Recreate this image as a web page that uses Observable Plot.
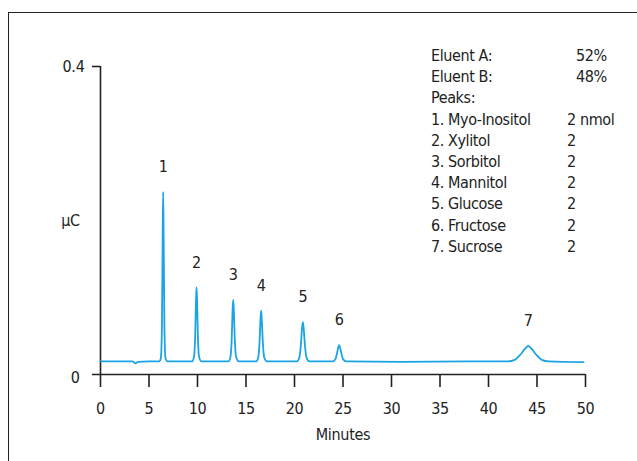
<!DOCTYPE html>
<html>
<head>
<meta charset="utf-8">
<script src="https://cdn.jsdelivr.net/npm/d3@7"></script>
<script src="https://cdn.jsdelivr.net/npm/@observablehq/plot@0.6"></script>
<style>
  html, body { margin: 0; padding: 0; background: #fff; }
  #wrap { position: relative; width: 637px; height: 461px; overflow: hidden;
          font-family: "DejaVu Sans Condensed", "Liberation Sans Narrow", Roboto, sans-serif; font-stretch: condensed; color: #222; }
  #frame { position: absolute; left: 8px; top: 12px; width: 700px; height: 600px;
           border-left: 1px solid #222; border-top: 1px solid #222; }
  #legend { position: absolute; left: 431px; top: 45px; font-size: 16px; line-height: 21.2px; letter-spacing: -0.4px; }
  #legend .row { position: relative; height: 21.2px; white-space: nowrap; }
  #legend .num { position: absolute; left: 0; }
  #legend .name { position: absolute; left: 17px; }
  #legend .val { position: absolute; left: 136px; }
  #legend .pct { position: absolute; left: 145px; }
  #chart { position: absolute; left: 0; top: 0; }
  #chart svg text { letter-spacing: -0.3px; }
</style>
</head>
<body>
<div id="wrap">
  <div id="frame"></div>
  <div id="chart"></div>
  <div id="legend"></div>
</div>
<script>
// Chromatogram trace (minutes, µC)
const times = [
  0, 3.3, 3.6, 3.85, 5.0, 6.05,
  6.22, 6.33, 6.41, 6.46, 6.51, 6.59, 6.70, 6.90,
  9.45, 9.64, 9.76, 9.85, 9.90, 9.95, 10.04, 10.16, 10.40,
  13.20, 13.40, 13.53, 13.62, 13.68, 13.74, 13.84, 13.98, 14.25,
  16.05, 16.26, 16.40, 16.50, 16.56, 16.62, 16.73, 16.88, 17.15,
  20.25, 20.50, 20.66, 20.78, 20.86, 20.94, 21.07, 21.24, 21.55,
  23.95, 24.22, 24.39, 24.51, 24.60, 24.69, 24.83, 25.0, 25.35,
  31.0, 38.0, 42.0,
  42.7, 43.3, 43.8, 44.1, 44.4, 44.9, 45.5, 46.2,
  49.8
];
const signal = [
  0.017, 0.017, 0.0145, 0.0165, 0.017, 0.017,
  0.021, 0.06, 0.18, 0.237, 0.18, 0.06, 0.021, 0.017,
  0.017, 0.023, 0.05, 0.098, 0.113, 0.098, 0.05, 0.023, 0.017,
  0.017, 0.023, 0.047, 0.085, 0.097, 0.085, 0.047, 0.023, 0.017,
  0.017, 0.022, 0.043, 0.073, 0.083, 0.073, 0.043, 0.022, 0.017,
  0.017, 0.022, 0.039, 0.061, 0.068, 0.061, 0.039, 0.022, 0.017,
  0.017, 0.02, 0.028, 0.035, 0.038, 0.035, 0.028, 0.02, 0.017,
  0.0165, 0.017, 0.017,
  0.019, 0.026, 0.034, 0.037, 0.034, 0.026, 0.019, 0.017,
  0.016
];
// Peak labels
const peakLabels = ["1", "2", "3", "4", "5", "6", "7"];
const peakTimes = [6.46, 9.9, 13.68, 16.56, 20.86, 24.6, 44.1];
const peakHeights = [0.237, 0.113, 0.097, 0.083, 0.068, 0.038, 0.037];
// Axis ticks
const xTicks = [0, 5, 10, 15, 20, 25, 30, 35, 40, 45, 50];
const yTicks = [0, 0.4];
// Legend text
const eluentNames = ["Eluent A:", "Eluent B:"];
const eluentValues = ["52%", "48%"];
const peakNames = ["Myo-Inositol", "Xylitol", "Sorbitol", "Mannitol", "Glucose", "Fructose", "Sucrose"];
const peakAmounts = ["2 nmol", "2", "2", "2", "2", "2", "2"];

const trace = times.map((t, i) => ({t, v: signal[i]}));
const peaks = peakTimes.map((t, i) => ({t, v: peakHeights[i], label: peakLabels[i]}));

const ink = "#222";
const chart = Plot.plot({
  width: 637,
  height: 461,
  marginLeft: 100,
  marginRight: 52,
  marginTop: 66,
  marginBottom: 87,
  style: {fontFamily: '"DejaVu Sans Condensed", "Liberation Sans Narrow", Roboto, sans-serif', fontSize: "16px", color: ink, background: "transparent"},
  x: {domain: [0, 50]},
  y: {domain: [0, 0.4]},
  marks: [
    Plot.ruleY([0], {stroke: ink, strokeWidth: 1.6, insetLeft: -8}),
    Plot.ruleX([0], {stroke: ink, strokeWidth: 1.6}),
    Plot.axisX({ticks: xTicks, tickSize: 13, tickPadding: 15, tickFormat: d => String(d), stroke: ink, strokeWidth: 1.6, fill: ink,
                label: "Minutes", labelAnchor: "center", labelArrow: "none", labelOffset: 65}),
    Plot.axisY({ticks: [yTicks[1]], tickSize: 8, tickPadding: 8, tickFormat: d => String(d), stroke: ink, strokeWidth: 1.6, fill: ink, label: null}),
    Plot.axisY({ticks: [yTicks[0]], tickSize: 0, tickPadding: 21, tickFormat: d => String(d), fill: ink, dy: 3, label: null}),
    Plot.text(["μC"], {frameAnchor: "left", dx: -30, textAnchor: "middle", fill: ink, fontSize: 16}),
    Plot.line(trace, {x: "t", y: "v", stroke: "#1ba4e3", strokeWidth: 1.8, curve: "monotone-x"}),
    Plot.text(peaks, {x: "t", y: "v", text: "label", dy: -25, fill: ink, fontSize: 16})
  ]
});
document.getElementById("chart").appendChild(chart);

// Legend (HTML)
const legend = d3.select("#legend");
eluentNames.forEach((n, i) => {
  const r = legend.append("div").attr("class", "row");
  r.append("span").attr("class", "num").text(n);
  r.append("span").attr("class", "pct").text(eluentValues[i]);
});
legend.append("div").attr("class", "row").append("span").attr("class", "num").text("Peaks:");
peakNames.forEach((n, i) => {
  const r = legend.append("div").attr("class", "row");
  r.append("span").attr("class", "num").text((i + 1) + ".");
  r.append("span").attr("class", "name").text(n);
  r.append("span").attr("class", "val").text(peakAmounts[i]);
});
</script>
</body>
</html>
